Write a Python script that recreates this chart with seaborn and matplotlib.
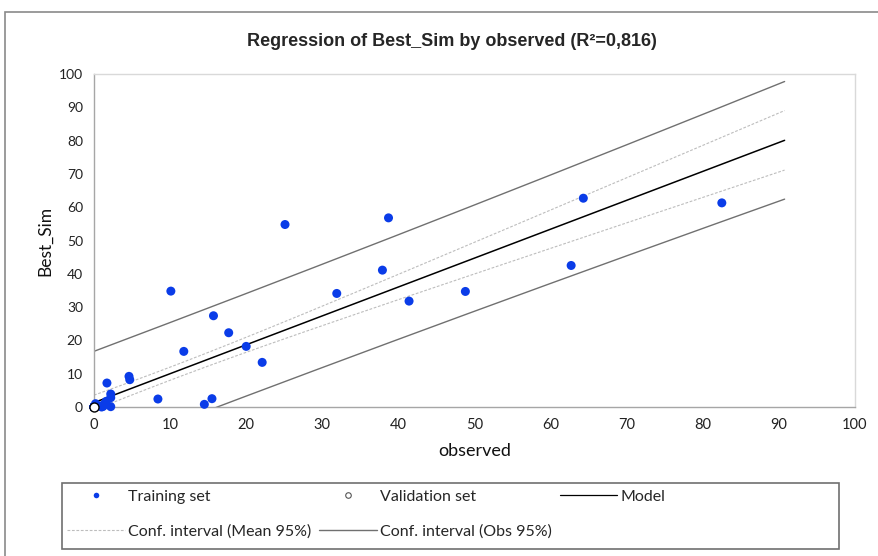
import numpy as np
import pandas as pd
import seaborn as sns
import matplotlib
matplotlib.use("Agg")
import matplotlib.pyplot as plt
from matplotlib.lines import Line2D
from matplotlib.patches import Rectangle

# ---- data ----
# visible training points
obs_train = [0.2, 0.6, 1.0, 1.3, 1.6, 1.2, 1.7, 2.2, 2.2, 2.2, 4.6, 4.7, 8.4,
             10.1, 11.8, 14.5, 15.5, 15.7, 17.7, 20.0, 22.1, 25.1, 31.9, 37.9,
             38.7, 41.4, 48.8, 62.7, 64.3, 82.5]
sim_train = [1.0, 0.3, 0.0, 0.8, 1.7, 0.2, 7.2, 3.9, 2.8, 0.1, 9.2, 8.2, 2.4,
             34.8, 16.7, 0.8, 2.5, 27.4, 22.3, 18.2, 13.4, 54.8, 34.1, 41.1,
             56.8, 31.8, 34.7, 42.5, 62.7, 61.3]
# training points stacked at the origin (hidden under the validation marker;
# count estimated from R²=0,816 and the narrow mean interval near x=0)
obs_train_origin = [0.0, 0.0, 0.0, 0.0, 0.0, 0.0, 0.0, 0.0, 0.0, 0.0,
                    0.0, 0.0, 0.0, 0.0, 0.0, 0.0, 0.0, 0.0, 0.0, 0.0,
                    0.0, 0.0, 0.0, 0.0, 0.0, 0.0, 0.0, 0.0, 0.0, 0.0]
sim_train_origin = [0.0, 0.0, 0.0, 0.0, 0.0, 0.0, 0.0, 0.0, 0.0, 0.0,
                    0.0, 0.0, 0.0, 0.0, 0.0, 0.0, 0.0, 0.0, 0.0, 0.0,
                    0.0, 0.0, 0.0, 0.0, 0.0, 0.0, 0.0, 0.0, 0.0, 0.0]
obs_valid = [0.0]
sim_valid = [0.0]
x_ticks = list(range(0, 101, 10))
y_ticks = list(range(0, 101, 10))
title = "Regression of Best_Sim by observed (R²=0,816)"
legend_labels = ["Training set", "Conf. interval (Mean 95%)", "Validation set",
                 "Conf. interval (Obs 95%)", "Model"]
t_crit = 2.00

sns.set_theme(style="white")
plt.rcParams['font.family'] = ['Lato', 'DejaVu Sans']

fig = plt.figure(figsize=(8.79, 5.56), dpi=100)
ax = fig.add_axes([94/879, 1-407/556, (855-94)/879, (407-74)/556])

# ---- regression and intervals computed from the training data ----
x = np.array(obs_train + obs_train_origin)
y = np.array(sim_train + sim_train_origin)
n = len(x)
X = np.column_stack([np.ones(n), x])
beta = np.linalg.lstsq(X, y, rcond=None)[0]
resid = y - X @ beta
s2 = resid @ resid / (n - 2)
XtXi = np.linalg.inv(X.T @ X)
xg = np.linspace(0, 1.1 * x.max(), 300)
G = np.column_stack([np.ones_like(xg), xg])
yhat = G @ beta
se_mean = np.sqrt(s2 * np.einsum('ij,jk,ik->i', G, XtXi, G))
se_obs = np.sqrt(s2 + se_mean**2)

lines = pd.DataFrame({"x": xg, "model": yhat,
                      "m_lo": yhat - t_crit*se_mean, "m_hi": yhat + t_crit*se_mean,
                      "o_lo": yhat - t_crit*se_obs, "o_hi": yhat + t_crit*se_obs})

mean_kw = dict(color="#bdbdbd", lw=0.8, linestyle=(0, (2.5, 1.5)))
obs_kw = dict(color="#707070", lw=1.0)
sns.lineplot(data=lines, x="x", y="o_hi", ax=ax, **obs_kw)
sns.lineplot(data=lines, x="x", y="o_lo", ax=ax, **obs_kw)
sns.lineplot(data=lines, x="x", y="m_hi", ax=ax, **mean_kw)
sns.lineplot(data=lines, x="x", y="m_lo", ax=ax, **mean_kw)
sns.lineplot(data=lines, x="x", y="model", ax=ax, color="black", lw=1.1)

pts = pd.DataFrame({"obs": obs_train + obs_train_origin,
                    "sim": sim_train + sim_train_origin})
sns.scatterplot(data=pts, x="obs", y="sim", ax=ax, color="#0a3ce8", s=42,
                edgecolor="none", clip_on=False, zorder=5)
vpts = pd.DataFrame({"obs": obs_valid, "sim": sim_valid})
sns.scatterplot(data=vpts, x="obs", y="sim", ax=ax, facecolor="white", s=42,
                edgecolor="black", linewidth=1.0, clip_on=False, zorder=6)

ax.set_xlim(0, 100)
ax.set_ylim(0, 100)
ax.set_xticks(x_ticks)
ax.set_yticks(y_ticks)
ax.tick_params(axis="both", direction="inout", length=8, width=1, color="#a0a0a0",
               labelsize=10, pad=4, labelcolor="#222222")
for lab in ax.get_xticklabels():
    lab.set_fontsize(10.5)
for side in ["left", "bottom"]:
    ax.spines[side].set_color("#a6a6a6"); ax.spines[side].set_linewidth(1)
for side in ["top", "right"]:
    ax.spines[side].set_color("#d9d9d9"); ax.spines[side].set_linewidth(1)
ax.set_xlabel("observed", fontsize=13, color="#111111", labelpad=8)
ax.set_ylabel("Best_Sim", fontsize=12.5, color="#111111", labelpad=4)

fig.text(452/879, 1-42/556, title, ha="center", va="center", fontsize=13,
         fontweight="bold", family=['Liberation Sans', 'DejaVu Sans'])

# outer frame
fig.patches.append(Rectangle((5/879, -0.5), 1.5, 0.5 + 1 - 12/556,
                             transform=fig.transFigure, fill=False,
                             edgecolor="#8a8a8a", lw=1.2))
# legend frame
fig.patches.append(Rectangle((62/879, 1-549/556), (839-62)/879, (549-483)/556,
                             transform=fig.transFigure, fill=False,
                             edgecolor="#707070", lw=1.2))

h_train = Line2D([], [], marker="o", ls="none", color="#0a3ce8", markersize=4,
                 markeredgewidth=0)
h_valid = Line2D([], [], marker="o", ls="none", markerfacecolor="white",
                 markeredgecolor="#555555", markersize=4, markeredgewidth=0.8)
h_model = Line2D([], [], color="black", lw=0.9)
h_mean = Line2D([], [], **mean_kw)
h_obs = Line2D([], [], **obs_kw)
handles = [h_train, h_mean, h_valid, h_obs, h_model]
leg = fig.legend(handles, legend_labels, ncol=3, loc="upper left",
                 bbox_to_anchor=(61/879, 1-483/556),
                 fontsize=11.5, frameon=False, handlelength=3.6,
                 handletextpad=0.2, borderpad=0.4, labelspacing=1.3,
                 columnspacing=0.5, borderaxespad=0)

fig.savefig("out.png", dpi=100)
